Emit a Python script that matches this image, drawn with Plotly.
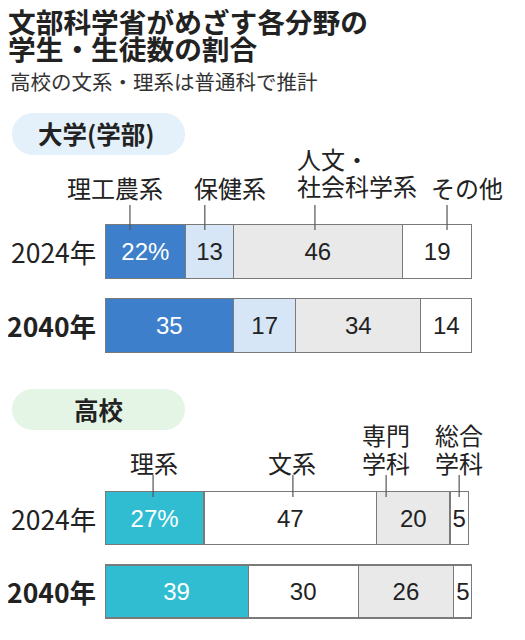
import plotly.graph_objects as go

# データ
years = ['2024年', '2040年']

uni_fields = ['理工農系', '保健系', '人文・社会科学系', 'その他']
uni_2024 = [22, 13, 46, 19]
uni_2040 = [35, 17, 34, 14]

hs_fields = ['理系', '文系', '専門学科', '総合学科']
hs_2024 = [27, 47, 20, 5]
hs_2040 = [39, 30, 26, 5]

# ラベル表示用（行ごと）と位置（%目盛り上）
uni_label_lines = [['理工農系'], ['保健系'], ['人文・', '社会科学系'], ['その他']]
uni_label_x = [2.7, 34.1, 51.8, 98.6]
uni_tick_x = [6.8, 27.2, 57.2, 93.2]
hs_label_lines = [['理系'], ['文系'], ['専門', '学科'], ['総合', '学科']]
hs_label_x = [13.4, 51.0, 76.6, 96.5]
hs_tick_x = [13.1, 51.2, 76.6, 96.5]

uni_colors = ['#3d7fcb', '#d6e6f6', '#e9e9e9', '#ffffff']
hs_colors = ['#31bdd1', '#ffffff', '#e9e9e9', '#ffffff']
FONT = 'Noto Sans CJK JP'
NUM_FONT = 'Liberation Sans, Noto Sans CJK JP'
OFF = 8  # ページ余白
W, H = 525 - OFF, 640 - OFF


def px(x):
    return (x - OFF) / W


def py(y):
    return 1 - (y - OFF) / H


def pill(x0, y0, x1, y1):
    r = (y1 - y0) / 2
    k = r * 0.55
    pts = [
        ('M', [(x0 + r, y0)]),
        ('L', [(x1 - r, y0)]),
        ('C', [(x1 - r + k, y0), (x1, y0 + r - k), (x1, y0 + r)]),
        ('C', [(x1, y0 + r + k), (x1 - r + k, y1), (x1 - r, y1)]),
        ('L', [(x0 + r, y1)]),
        ('C', [(x0 + r - k, y1), (x0, y1 - r + k), (x0, y1 - r)]),
        ('C', [(x0, y0 + r - k), (x0 + r - k, y0), (x0 + r, y0)]),
    ]
    s = ''
    for cmd, p in pts:
        s += cmd + ' '.join(f'{px(a):.5f},{py(b):.5f}' for a, b in p) + ' '
    return s + 'Z'


fig = go.Figure()

for i, name in enumerate(uni_fields):
    vals = [uni_2024[i], uni_2040[i]]
    txt = [f'{v}%' if (i == 0 and j == 0) else str(v) for j, v in enumerate(vals)]
    fig.add_trace(go.Bar(
        y=years, x=vals, orientation='h', name=name, text=txt,
        textposition='inside', insidetextanchor='middle', textangle=0,
        constraintext='none',
        textfont=dict(size=24, color='white' if i == 0 else '#222', family=NUM_FONT),
        marker=dict(color=uni_colors[i], line=dict(color='#7a7a7a', width=1.2)),
        xaxis='x', yaxis='y', showlegend=False, hoverinfo='skip'))

for i, name in enumerate(hs_fields):
    vals = [hs_2024[i], hs_2040[i]]
    txt = [f'{v}%' if (i == 0 and j == 0) else str(v) for j, v in enumerate(vals)]
    fig.add_trace(go.Bar(
        y=years, x=vals, orientation='h', name=name, text=txt,
        textposition='inside', insidetextanchor='middle', textangle=0,
        constraintext='none',
        textfont=dict(size=24, color='white' if i == 0 else '#222', family=NUM_FONT),
        marker=dict(color=hs_colors[i], line=dict(color='#7a7a7a', width=1.2)),
        xaxis='x2', yaxis='y2', showlegend=False, hoverinfo='skip'))


def note(text, x, y, size, xref='paper', yref='paper', xanchor='left', color='#222', **kw):
    return dict(text=text, x=x, y=y, xref=xref, yref=yref, xanchor=xanchor, yanchor='middle',
                showarrow=False, font=dict(size=size, family=FONT, color=color), **kw)


ann = [
    # タイトル
    note('<b>文部科学省がめざす各分野の</b>', px(6), py(21), 27.7),
    note('<b>学生・生徒数の割合</b>', px(6), py(48), 27.7),
    note('高校の文系・理系は普通科で推計', px(8), py(81), 20.5, color='#333'),
    # 見出し
    note('<b>大学(学部)</b>', px(96.5), py(134), 24.5, xanchor='center'),
    note('<b>高校</b>', px(98.5), py(409.5), 24.5, xanchor='center'),
]

# 年ラベル
for xa, ya in [('x', 'y'), ('x2', 'y2')]:
    for j, yr in enumerate(years):
        ann.append(note(yr if j == 0 else f'<b>{yr}</b>', 0, yr, 26.5, xref=xa, yref=ya,
                        xanchor='right', xshift=-7))

# 分野ラベル
for k, lines in enumerate(uni_label_lines):
    if len(lines) == 1:
        ann.append(note(lines[0], uni_label_x[k], py(187.5), 24, xref='x', xanchor='center'))
    else:
        ann.append(note(lines[0], uni_label_x[k], py(159), 24, xref='x'))
        ann.append(note(lines[1], uni_label_x[k], py(185.5), 24, xref='x'))
for k, lines in enumerate(hs_label_lines):
    if len(lines) == 1:
        ann.append(note(lines[0], hs_label_x[k], py(462), 24, xref='x2', xanchor='center'))
    else:
        ann.append(note(lines[0], hs_label_x[k], py(434), 24, xref='x2', xanchor='center'))
        ann.append(note(lines[1], hs_label_x[k], py(462), 24, xref='x2', xanchor='center'))

shapes = [
    dict(type='path', path=pill(12, 113, 185, 155), xref='paper', yref='paper',
         fillcolor='#e4f1fa', line=dict(width=0), layer='below'),
    dict(type='path', path=pill(12, 389, 185, 430), xref='paper', yref='paper',
         fillcolor='#e5f5e5', line=dict(width=0), layer='below'),
]
for tx in uni_tick_x:
    shapes.append(dict(type='line', xref='x', yref='paper', x0=tx, x1=tx, y0=py(205), y1=py(230),
                       line=dict(color='#555', width=1.2), layer='above'))
for tx in hs_tick_x:
    shapes.append(dict(type='line', xref='x2', yref='paper', x0=tx, x1=tx, y0=py(475), y1=py(497),
                       line=dict(color='#555', width=1.2), layer='above'))

ax = dict(range=[0, 100], domain=[px(105), px(472)], visible=False, fixedrange=True)
fig.update_layout(
    width=W, height=H, margin=dict(l=0, r=0, t=0, b=0),
    paper_bgcolor='white', plot_bgcolor='rgba(0,0,0,0)',
    barmode='stack', bargap=0.28,
    uniformtext=dict(minsize=24, mode='show'),
    font=dict(family=FONT, color='#222'),
    xaxis=dict(ax, anchor='y'),
    xaxis2=dict(ax, anchor='y2'),
    yaxis=dict(domain=[py(362.5), py(214.5)], range=[1.5, -0.5], visible=False,
               type='category', anchor='x'),
    yaxis2=dict(domain=[py(628.25), py(481.25)], range=[1.5, -0.5], visible=False,
                type='category', anchor='x2'),
    annotations=ann, shapes=shapes,
)

fig.write_html('out.html')
